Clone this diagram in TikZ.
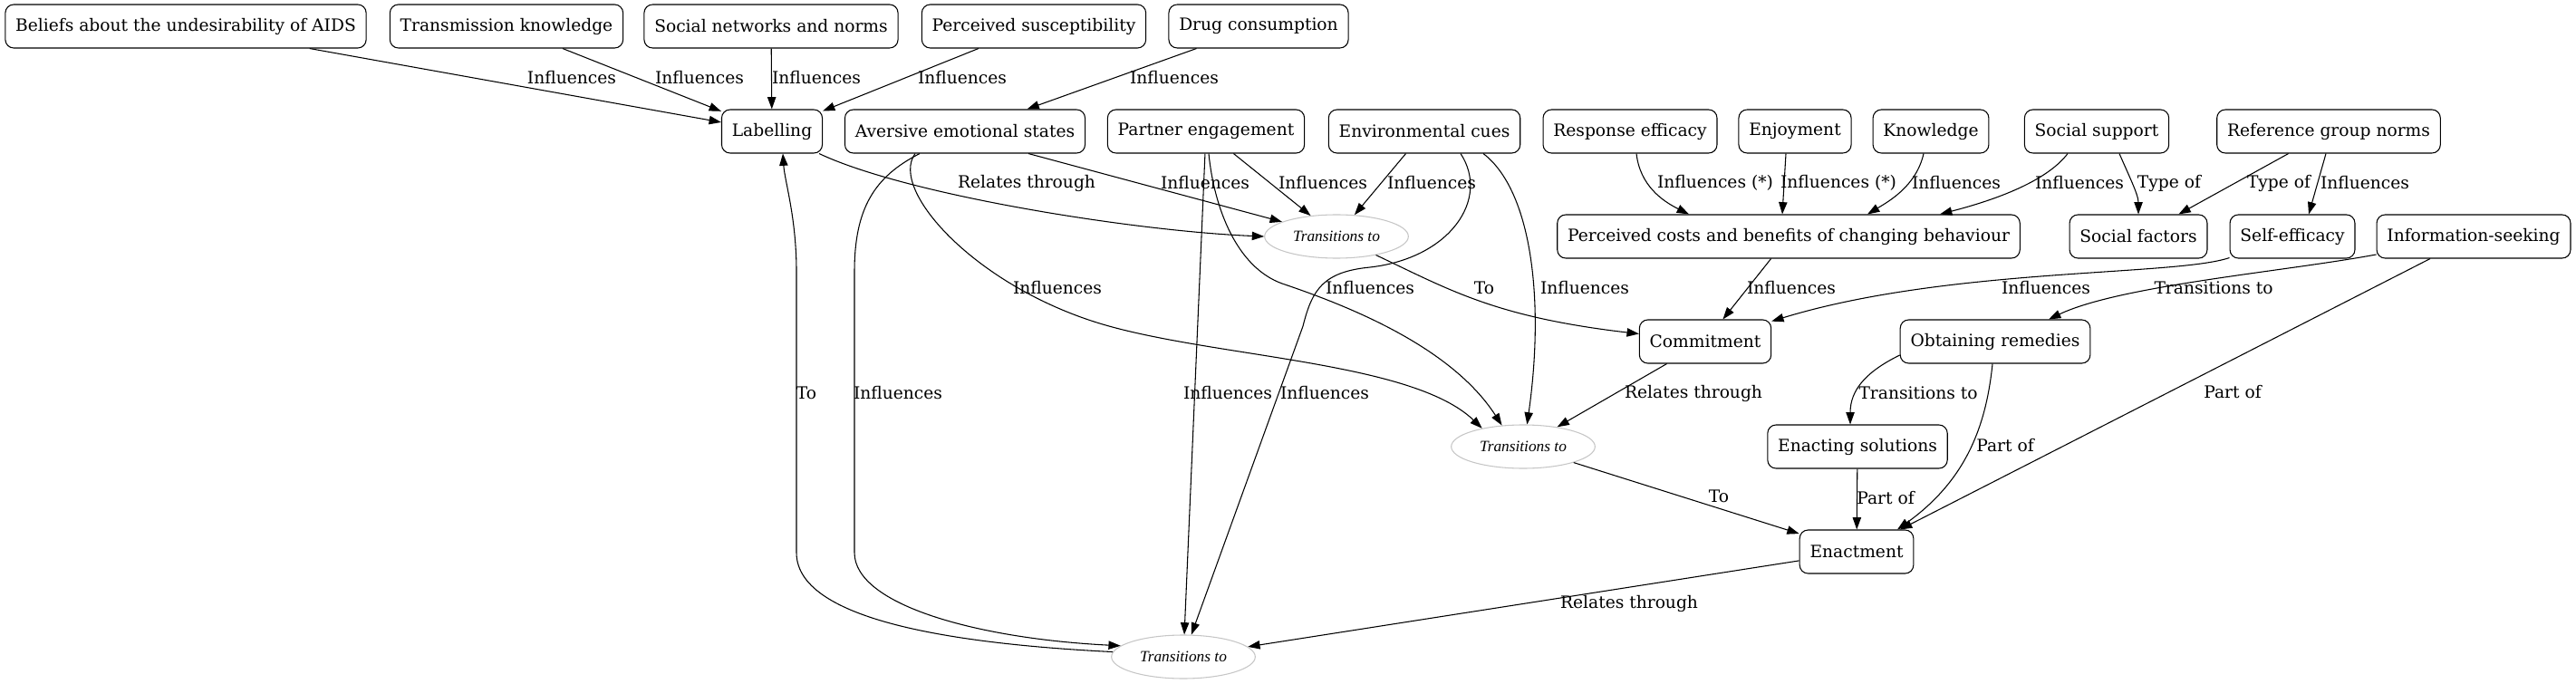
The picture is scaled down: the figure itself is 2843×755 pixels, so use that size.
\documentclass[tikz,border=0pt]{standalone}
\usepackage{fontspec}
\setmainfont{DejaVu Serif}
\newfontfamily\transfont{Liberation Serif}
\usetikzlibrary{arrows.meta,shapes.geometric,calc}

\tikzset{
  concept/.style={draw, rounded corners=7pt, minimum height=36pt, inner xsep=8.5pt, inner ysep=0pt,
    line width=0.8pt, font=\fontsize{14}{16}\selectfont},
  transition/.style={draw=gray!45, ellipse, minimum width=119pt, minimum height=36pt, inner sep=0pt,
    line width=0.8pt, font=\transfont\itshape\fontsize{13}{15}\selectfont},
  rel/.style={draw, line width=0.8pt, -{Triangle[length=10pt,width=7pt]}},
  lbl/.style={inner sep=0pt, font=\fontsize{14}{16}\selectfont},
}

\begin{document}
\begin{tikzpicture}[x=0.75pt,y=-0.75pt]
        \useasboundingbox (0,0) rectangle (2843,755);
        % first row
        \node[concept] (beliefs) at (205,29) {Beliefs about the undesirability of AIDS};
        \node[concept] (transk) at (559,29) {Transmission knowledge};
        \node[concept] (socnet) at (851,29) {Social networks and norms};
        \node[concept] (suscept) at (1141,29) {Perceived susceptibility};
        \node[concept] (drugs) at (1389,29) {Drug consumption};
        % second row
        \node[concept] (labelling) at (852,145) {Labelling};
        \node[concept] (aversive) at (1065,145) {Aversive emotional states};
        \node[concept] (partner) at (1331,145) {Partner engagement};
        \node[concept] (envcues) at (1572,145) {Environmental cues};
        \node[concept] (respeff) at (1799,145) {Response efficacy};
        \node[concept] (enjoy) at (1981,145) {Enjoyment};
        \node[concept] (knowl) at (2131,145) {Knowledge};
        \node[concept] (socsup) at (2314,145) {Social support};
        \node[concept] (refgroup) at (2570,145) {Reference group norms};
        % third row
        \node[transition] (trans1) at (1475,261) {Transitions to};
        \node[concept] (costs) at (1974,261) {Perceived costs and benefits of changing behaviour};
        \node[concept] (socfact) at (2360,261) {Social factors};
        \node[concept] (selfeff) at (2530,261) {Self-efficacy};
        \node[concept] (infoseek) at (2730,261) {Information-seeking};
        % lower rows
        \node[concept] (commit) at (1882,377) {Commitment};
        \node[concept] (remedies) at (2202,377) {Obtaining remedies};
        \node[transition] (trans2) at (1681,493) {Transitions to};
        \node[concept] (enacting) at (2050,493) {Enacting solutions};
        \node[concept] (enactment) at (2049,609) {Enactment};
        \node[transition] (trans3) at (1306,725) {Transitions to};

        % into Labelling
        \draw[rel] (beliefs) -- (labelling) node[lbl] at (631,86) {Influences};
        \draw[rel] (transk) -- (labelling) node[lbl] at (772,86) {Influences};
        \draw[rel] (socnet) -- (labelling) node[lbl] at (901,86) {Influences};
        \draw[rel] (suscept) -- (labelling) node[lbl] at (1062,86) {Influences};
        \draw[rel] (drugs) -- (aversive) node[lbl] at (1296,86) {Influences};

        % first transition
        \draw[rel] ($(labelling.south)+(52,0)$) .. controls (1000,215) and (1250,255) .. (trans1.west) node[lbl] at (1133,202) {Relates through};
        \draw[rel] ($(aversive.south)+(70,0)$) -- (trans1) node[lbl] at (1330,202) {Influences};
        \draw[rel] (partner) -- (trans1) node[lbl] at (1460,202) {Influences};
        \draw[rel] (envcues) -- (trans1) node[lbl] at (1580,202) {Influences};
        \draw[rel] (trans1) .. controls (1600,320) and (1650,350) .. (commit) node[lbl] at (1638,318) {To};

        % costs and benefits, social factors
        \draw[rel] ($(respeff.south)+(7,0)$) .. controls (1810,205) and (1835,222) .. ($(costs.north)+(-110,0)$) node[lbl] at (1893,202) {Influences (*)};
        \draw[rel] ($(enjoy.south)+(-10,0)$) -- ($(costs.north)+(-7,0)$) node[lbl] at (2029,202) {Influences (*)};
        \draw[rel] ($(knowl.south)+(-8,0)$) .. controls (2115,205) and (2085,222) .. ($(costs.north)+(87,0)$) node[lbl] at (2159,202) {Influences};
        \draw[rel] ($(socsup.south)+(-32,0)$) .. controls (2255,205) and (2185,225) .. ($(costs.north)+(167,0)$) node[lbl] at (2295,202) {Influences};
        \draw[rel] ($(socsup.south)+(25,0)$) .. controls (2350,195) and (2360,215) .. (socfact) node[lbl] at (2394,202) {Type of};
        \draw[rel] (refgroup) -- (socfact) node[lbl] at (2515,202) {Type of};
        \draw[rel] ($(refgroup.south)+(-3,0)$) -- ($(selfeff.north)+(18,0)$) node[lbl] at (2610,202) {Influences};

        % commitment, remedies
        \draw[rel] (costs) -- (commit) node[lbl] at (1977,318) {Influences};
        \draw[rel] (selfeff) .. controls (2400,305) and (2150,295) .. (commit) node[lbl] at (2258,318) {Influences};
        \draw[rel] (infoseek) .. controls (2520,300) and (2340,315) .. ($(remedies.north)+(59,0)$) node[lbl] at (2443,318) {Transitions to};
        \draw[rel] (infoseek) -- (enactment) node[lbl] at (2464,433) {Part of};

        % second transition
        \draw[rel] ($(aversive.south)+(-55,0)$) .. controls (980,210) and (1080,320) .. (1224,360) .. controls (1350,395) and (1560,400) .. (trans2.156) node[lbl] at (1167,318) {Influences};
        \draw[rel] ($(partner.south)+(3,0)$) .. controls (1340,230) and (1365,295) .. (1415,313) .. controls (1480,335) and (1600,380) .. (trans2.135) node[lbl] at (1512,318) {Influences};
        \draw[rel] ($(envcues.south)+(65,0)$) .. controls (1690,210) and (1705,330) .. (trans2.80) node[lbl] at (1749,318) {Influences};
        \draw[rel] (commit) -- (trans2) node[lbl] at (1869,434) {Relates through};
        \draw[rel] (trans2) -- (enactment) node[lbl] at (1897,548) {To};

        % enactment
        \draw[rel] ($(remedies.west)+(0,15)$) .. controls (2060,410) and (2042,430) .. ($(enacting.north)+(-8,0)$) node[lbl] at (2117,434) {Transitions to};
        \draw[rel] ($(remedies.south)+(-3,0)$) .. controls (2192,470) and (2170,530) .. ($(enactment.north)+(45,0)$) node[lbl] at (2213,492) {Part of};
        \draw[rel] (enacting) -- (enactment) node[lbl] at (2081,550) {Part of};

        % third transition
        \draw[rel] (enactment) -- (trans3) node[lbl] at (1798,666) {Relates through};
        \draw[rel] ($(aversive.south)+(-50,0)$) .. controls (965,195) and (943,230) .. (943,300) -- (943,610) .. controls (943,668) and (1080,705) .. (trans3.170) node[lbl] at (991,434) {Influences};
        \draw[rel] (partner) -- (trans3) node[lbl] at (1355,434) {Influences};
        \draw[rel] ($(envcues.south)+(40,0)$) .. controls (1645,220) and (1600,285) .. (1512,295) .. controls (1460,300) and (1448,320) .. (1438,360) -- (trans3) node[lbl] at (1462,434) {Influences};
        \draw[rel] (trans3.176) .. controls (1080,712) and (879,690) .. (879,610) -- (879,300) .. controls (879,240) and (866,200) .. ($(labelling.south)+(12,0)$) node[lbl] at (890,434) {To};
    \end{tikzpicture}
\end{document}
